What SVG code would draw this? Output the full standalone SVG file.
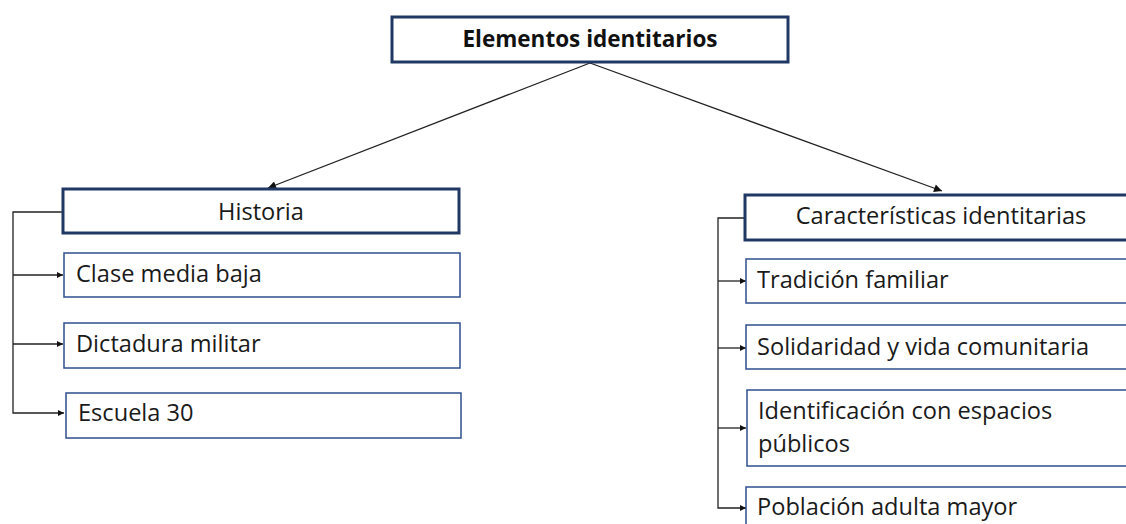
<svg xmlns="http://www.w3.org/2000/svg" width="1126" height="524" viewBox="0 0 1126 524">
<style>
.main{fill:#fff;stroke:#1F3864;stroke-width:3}
.sub{fill:#fff;stroke:#2F4F8F;stroke-width:1.5}
.t{font-family:"Open Sans","Liberation Sans",sans-serif;font-size:23.6px;fill:#1a1a1a}
.tb{font-family:"Open Sans","Liberation Sans",sans-serif;font-size:22.5px;font-weight:bold;fill:#111}
.c{fill:none;stroke:#222;stroke-width:1.3}
</style>
<defs>
<marker id="ah" viewBox="0 0 10 10" refX="10" refY="5" markerWidth="6" markerHeight="6" orient="auto" markerUnits="userSpaceOnUse">
<path d="M0,0 L10,5 L0,10 z" fill="#111"/>
</marker>
<marker id="ah2" viewBox="0 0 10 10" refX="10" refY="5" markerWidth="11" markerHeight="8" orient="auto" markerUnits="userSpaceOnUse">
<path d="M0,0 L10,5 L0,10 z" fill="#111"/>
</marker>
</defs>
<g id="connectors">
<line class="c" x1="590" y1="63" x2="268" y2="188" marker-end="url(#ah2)"/>
<line class="c" x1="590" y1="63" x2="942" y2="191" marker-end="url(#ah2)"/>
<polyline class="c" points="63,212 13,212 13,413 64,413" marker-end="url(#ah)"/>
<line class="c" x1="13" y1="275" x2="63" y2="275" marker-end="url(#ah)"/>
<line class="c" x1="13" y1="344" x2="63" y2="344" marker-end="url(#ah)"/>
<polyline class="c" points="745,218 718,218 718,508 746,508" marker-end="url(#ah)"/>
<line class="c" x1="718" y1="281" x2="746" y2="281" marker-end="url(#ah)"/>
<line class="c" x1="718" y1="348" x2="746" y2="348" marker-end="url(#ah)"/>
<line class="c" x1="718" y1="428" x2="746" y2="428" marker-end="url(#ah)"/>
</g>
<g id="n-elementos">
<rect class="main" x="392" y="17" width="396" height="45"/>
<text class="tb" x="590" y="47" text-anchor="middle">Elementos identitarios</text>
</g>
<g id="n-historia">
<rect class="main" x="63" y="189" width="396" height="44"/>
<text class="t" x="261" y="220" text-anchor="middle">Historia</text>
</g>
<g id="n-clase">
<rect class="sub" x="64" y="253" width="396" height="44"/>
<text class="t" x="76" y="282">Clase media baja</text>
</g>
<g id="n-dictadura">
<rect class="sub" x="64" y="323" width="396" height="45"/>
<text class="t" x="76" y="352">Dictadura militar</text>
</g>
<g id="n-escuela">
<rect class="sub" x="66" y="393" width="395" height="45"/>
<text class="t" x="78" y="421">Escuela 30</text>
</g>
<g id="n-caracteristicas">
<rect class="main" x="745" y="195" width="390" height="45"/>
<text class="t" x="941" y="224" text-anchor="middle">Características identitarias</text>
</g>
<g id="n-tradicion">
<rect class="sub" x="746" y="259" width="390" height="44"/>
<text class="t" x="757" y="288">Tradición familiar</text>
</g>
<g id="n-solidaridad">
<rect class="sub" x="746" y="325" width="390" height="44"/>
<text class="t" x="757" y="355">Solidaridad y vida comunitaria</text>
</g>
<g id="n-identificacion">
<rect class="sub" x="747" y="390" width="390" height="76"/>
<text class="t" x="758" y="419">Identificación con espacios</text>
<text class="t" x="758" y="452">públicos</text>
</g>
<g id="n-poblacion">
<rect class="sub" x="746" y="487" width="390" height="50"/>
<text class="t" x="757" y="515">Población adulta mayor</text>
</g>
</svg>
